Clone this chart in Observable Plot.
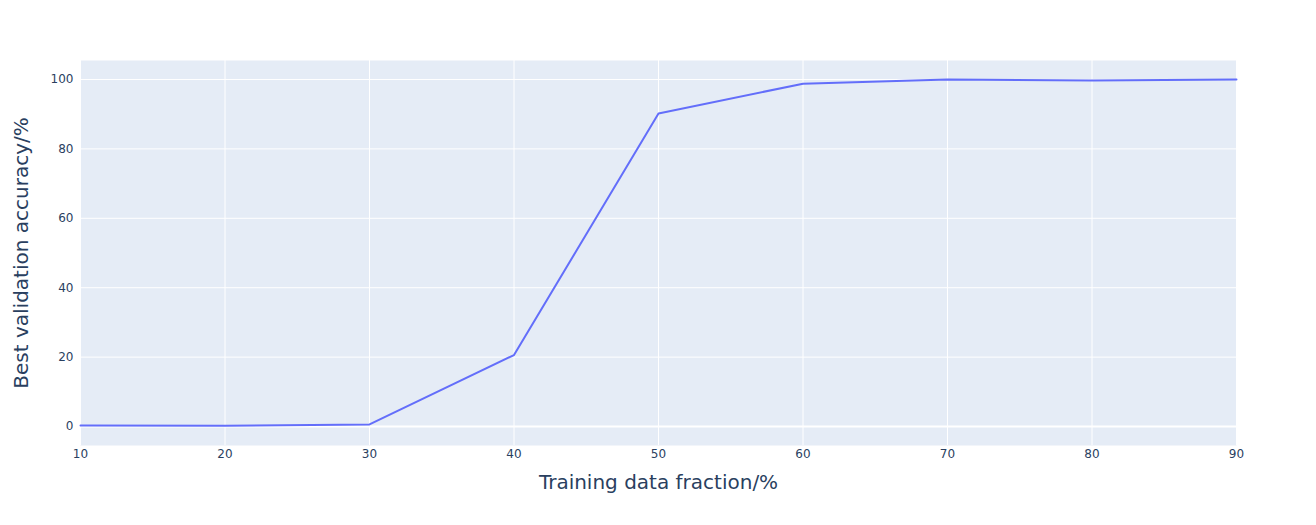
<!DOCTYPE html>
<html>
<head>
<meta charset="utf-8">
<script src="https://cdn.jsdelivr.net/npm/d3@7"></script>
<script src="https://cdn.jsdelivr.net/npm/@observablehq/plot@0.6"></script>
<style>
  html, body { margin: 0; padding: 0; background: #fff; }
  #chart { width: 1316px; height: 525px; }
  svg { font-family: "DejaVu Sans", sans-serif; }
</style>
</head>
<body>
<div id="chart"></div>
<script>
const fractions = [10, 20, 30, 40, 50, 60, 70, 80, 90];
const accuracy = [0.3, 0.2, 0.6, 20.6, 90.2, 98.8, 100.0, 99.7, 100.0];
const xTicks = [10, 20, 30, 40, 50, 60, 70, 80, 90];
const yTicks = [0, 20, 40, 60, 80, 100];
const xLabel = "Training data fraction/%";
const yLabel = "Best validation accuracy/%";

const data = fractions.map((f, i) => ({x: f, y: accuracy[i]}));
const ink = "#2a3f5f";

const chart = Plot.plot({
  width: 1316,
  height: 525,
  marginLeft: 80,
  marginRight: 80,
  marginTop: 60,
  marginBottom: 80,
  style: {fontFamily: "'DejaVu Sans', sans-serif", background: "white"},
  x: {domain: [10, 90]},
  y: {domain: [-5.47, 105.47]},
  marks: [
    Plot.frame({fill: "#E5ECF6", stroke: null}),
    Plot.ruleX(xTicks, {stroke: "white", strokeWidth: 1}),
    Plot.ruleY(yTicks.filter(d => d !== 0), {stroke: "white", strokeWidth: 1}),
    Plot.ruleY([0], {stroke: "white", strokeWidth: 2}),
    Plot.axisX({ticks: xTicks, tickSize: 0, tickPadding: 4, fontSize: 12, color: ink, label: null, tickFormat: d => String(d)}),
    Plot.axisY({ticks: yTicks, tickSize: 0, tickPadding: 7, fontSize: 12, color: ink, label: null, tickFormat: d => String(d)}),
    Plot.line(data, {x: "x", y: "y", stroke: "#636EFA", strokeWidth: 2}),
    Plot.text([xLabel], {frameAnchor: "bottom", dy: 37, fontSize: 20, fill: ink, textAnchor: "middle", lineAnchor: "middle", text: d => d}),
    Plot.text([yLabel], {frameAnchor: "left", dx: -59, rotate: -90, fontSize: 20, fill: ink, textAnchor: "middle", lineAnchor: "middle", text: d => d})
  ]
});
document.getElementById("chart").appendChild(chart);
</script>
</body>
</html>
